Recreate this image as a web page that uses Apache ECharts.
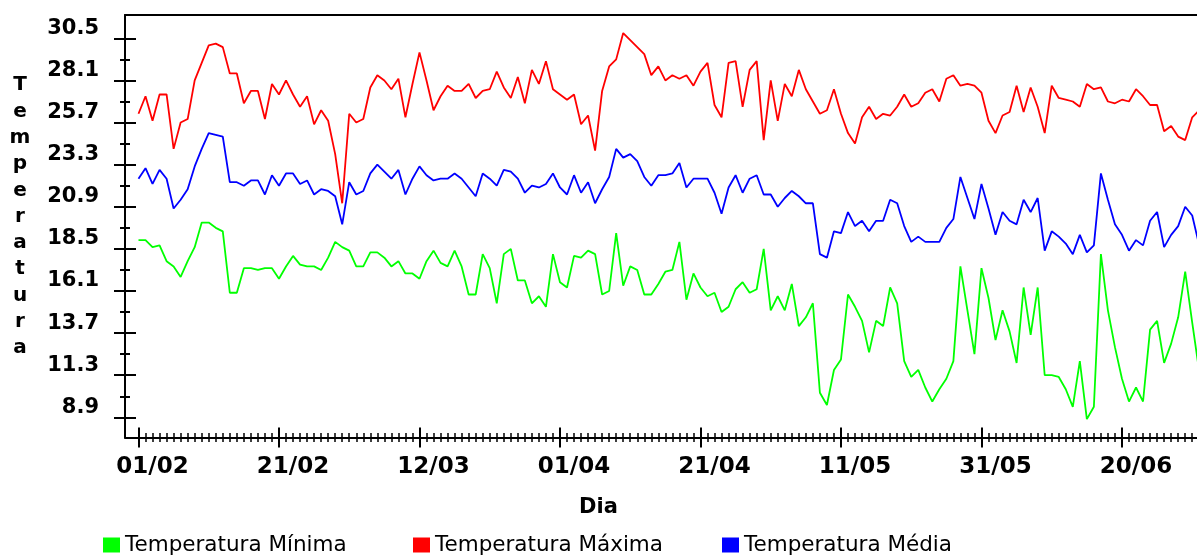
<!DOCTYPE html>
<html>
<head>
<meta charset="utf-8">
<title>Temperatura</title>
<script src="https://cdn.jsdelivr.net/npm/echarts@6/dist/echarts.min.js"></script>
<style>
  html, body { margin: 0; padding: 0; background: #fff; }
  #chart { width: 1197px; height: 556px; }
</style>
</head>
<body>
<div id="chart"></div>
<script>
// Daily temperatures, one value per day starting 01/02 (leap year, ends 01/07).
const tempMin = [
  19.0, 19.0, 18.6, 18.7, 17.8, 17.5, 16.9, 17.8, 18.6, 20.0,
  20.0, 19.7, 19.5, 16.0, 16.0, 17.4, 17.4, 17.3, 17.4, 17.4,
  16.8, 17.5, 18.1, 17.6, 17.5, 17.5, 17.3, 18.0, 18.9, 18.6,
  18.4, 17.5, 17.5, 18.3, 18.3, 18.0, 17.5, 17.8, 17.1, 17.1,
  16.8, 17.8, 18.4, 17.7, 17.5, 18.4, 17.5, 15.9, 15.9, 18.2,
  17.4, 15.4, 18.2, 18.5, 16.7, 16.7, 15.4, 15.8, 15.2, 18.2,
  16.6, 16.3, 18.1, 18.0, 18.4, 18.2, 15.9, 16.1, 19.4, 16.4,
  17.5, 17.3, 15.9, 15.9, 16.5, 17.2, 17.3, 18.9, 15.6, 17.1,
  16.3, 15.8, 16.0, 14.9, 15.2, 16.2, 16.6, 16.0, 16.2, 18.5,
  15.0, 15.8, 15.0, 16.5, 14.1, 14.6, 15.4, 10.3, 9.6, 11.6,
  12.2, 15.9, 15.2, 14.4, 12.6, 14.4, 14.1, 16.3, 15.4, 12.1,
  11.2, 11.6, 10.6, 9.8, 10.5, 11.1, 12.1, 17.5, 15.0, 12.5,
  17.4, 15.7, 13.3, 15.0, 13.8, 12.0, 16.3, 13.6, 16.3, 11.3,
  11.3, 11.2, 10.5, 9.5, 12.1, 8.8, 9.5, 18.2, 15.0, 12.9,
  11.1, 9.8, 10.6, 9.8, 13.9, 14.4, 12.0, 13.1, 14.6, 17.2,
  14.3, 11.5
];
const tempMax = [
  26.2, 27.2, 25.8, 27.3, 27.3, 24.2, 25.7, 25.9, 28.1, 29.1,
  30.1, 30.2, 30.0, 28.5, 28.5, 26.8, 27.5, 27.5, 25.9, 27.9,
  27.3, 28.1, 27.3, 26.6, 27.2, 25.6, 26.4, 25.8, 23.9, 21.1,
  26.2, 25.7, 25.9, 27.7, 28.4, 28.1, 27.6, 28.2, 26.0, 27.9,
  29.7, 28.1, 26.4, 27.2, 27.8, 27.5, 27.5, 27.9, 27.1, 27.5,
  27.6, 28.6, 27.7, 27.1, 28.3, 26.8, 28.7, 27.9, 29.2, 27.6,
  27.3, 27.0, 27.3, 25.6, 26.1, 24.1, 27.5, 28.9, 29.3, 30.8,
  30.4, 30.0, 29.6, 28.4, 28.9, 28.1, 28.4, 28.2, 28.4, 27.8,
  28.6, 29.1, 26.7, 26.0, 29.1, 29.2, 26.6, 28.7, 29.2, 24.7,
  28.1, 25.8, 27.9, 27.2, 28.7, 27.6, 26.9, 26.2, 26.4, 27.6,
  26.2, 25.1, 24.5, 26.0, 26.6, 25.9, 26.2, 26.1, 26.6, 27.3,
  26.6, 26.8, 27.4, 27.6, 26.9, 28.2, 28.4, 27.8, 27.9, 27.8,
  27.4, 25.8, 25.1, 26.1, 26.3, 27.8, 26.3, 27.7, 26.6, 25.1,
  27.8, 27.1, 27.0, 26.9, 26.6, 27.9, 27.6, 27.7, 26.9, 26.8,
  27.0, 26.9, 27.6, 27.2, 26.7, 26.7, 25.2, 25.5, 24.9, 24.7,
  26.0, 26.4
];
const tempAvg = [
  22.5, 23.1, 22.2, 23.0, 22.5, 20.8, 21.3, 21.9, 23.2, 24.2,
  25.1, 25.0, 24.9, 22.3, 22.3, 22.1, 22.4, 22.4, 21.6, 22.7,
  22.1, 22.8, 22.8, 22.2, 22.4, 21.6, 21.9, 21.8, 21.5, 19.9,
  22.3, 21.6, 21.8, 22.8, 23.3, 22.9, 22.5, 23.0, 21.6, 22.5,
  23.2, 22.7, 22.4, 22.5, 22.5, 22.8, 22.5, 22.0, 21.5, 22.8,
  22.5, 22.1, 23.0, 22.9, 22.5, 21.7, 22.1, 22.0, 22.2, 22.8,
  22.0, 21.6, 22.7, 21.7, 22.3, 21.1, 21.9, 22.6, 24.2, 23.7,
  23.9, 23.5, 22.6, 22.1, 22.7, 22.7, 22.8, 23.4, 22.0, 22.5,
  22.5, 22.5, 21.7, 20.5, 22.0, 22.7, 21.7, 22.5, 22.7, 21.6,
  21.6, 20.9, 21.4, 21.8, 21.5, 21.1, 21.1, 18.2, 18.0, 19.5,
  19.4, 20.6, 19.8, 20.1, 19.5, 20.1, 20.1, 21.3, 21.1, 19.8,
  18.9, 19.2, 18.9, 18.9, 18.9, 19.7, 20.2, 22.6, 21.4, 20.2,
  22.2, 20.8, 19.3, 20.6, 20.1, 19.9, 21.3, 20.6, 21.4, 18.4,
  19.5, 19.2, 18.8, 18.2, 19.3, 18.3, 18.7, 22.8, 21.3, 19.9,
  19.3, 18.4, 19.0, 18.7, 20.1, 20.6, 18.6, 19.3, 19.8, 20.9,
  20.4, 18.7
];

// Axis ticks: dates every 20 days, temperatures every 2.4 degrees.
const dateTickDays = [0, 20, 40, 60, 80, 100, 120, 140];
const dateTickLabels = ['01/02', '21/02', '12/03', '01/04', '21/04', '11/05', '31/05', '20/06'];
const tempTickLabels = ['8.9', '11.3', '13.7', '16.1', '18.5', '20.9', '23.3', '25.7', '28.1', '30.5'];
const tempMinorTicks = [10.1, 12.5, 14.9, 17.3, 19.7, 22.1, 24.5, 26.9, 29.3];

const seriesNames = ['Temperatura M\u00ednima', 'Temperatura M\u00e1xima', 'Temperatura M\u00e9dia'];
const seriesColors = ['#00ff00', '#ff0000', '#0000ff'];

const tempTicks = tempTickLabels.map(Number);
const dayTicks = tempMin.map((_, i) => i);

const X_MIN = -1.92, X_MAX = 150.68;
const Y_MIN = 7.75, Y_MAX = 31.83;
const FONT = 'DejaVu Sans';

function xAxisBase(extra) {
  return Object.assign({
    type: 'value', min: X_MIN, max: X_MAX, position: 'bottom',
    axisLine: { show: false, onZero: false },
    axisTick: { show: false },
    axisLabel: { show: false },
    splitLine: { show: false }
  }, extra);
}
function yAxisBase(extra) {
  return Object.assign({
    type: 'value', min: Y_MIN, max: Y_MAX, position: 'left',
    axisLine: { show: false, onZero: false },
    axisTick: { show: false },
    axisLabel: { show: false },
    splitLine: { show: false }
  }, extra);
}

const chart = echarts.init(document.getElementById('chart'), null, { renderer: 'canvas' });

chart.setOption({
  animation: false,
  backgroundColor: '#ffffff',
  grid: { left: 125, right: 0, top: 15, bottom: 118.5, containLabel: false },
  xAxis: [
    xAxisBase({
      axisLine: { show: true, onZero: false, lineStyle: { color: '#000', width: 2 } },
      axisLabel: {
        show: true, customValues: dateTickDays, margin: 18,
        padding: [0, 0, 0, 28],
        color: '#000', fontFamily: FONT, fontWeight: 'bold', fontSize: 23, lineHeight: 23,
        formatter: v => dateTickLabels[dateTickDays.indexOf(Math.round(v))] || ''
      }
    }),
    // long ticks crossing the axis every 20 days
    xAxisBase({
      offset: -10,
      axisTick: { show: true, customValues: dateTickDays, length: 20, lineStyle: { color: '#000', width: 2 } }
    }),
    // short daily ticks
    xAxisBase({
      offset: -4.5,
      axisTick: { show: true, customValues: dayTicks, length: 9, lineStyle: { color: '#000', width: 1.5 } }
    }),
    // upper frame line
    xAxisBase({
      position: 'top',
      axisLine: { show: true, onZero: false, lineStyle: { color: '#000', width: 2 } }
    })
  ],
  yAxis: [
    yAxisBase({
      axisLine: { show: true, onZero: false, lineStyle: { color: '#000', width: 2 } },
      axisLabel: {
        show: true, customValues: tempTicks, margin: 26,
        verticalAlign: 'bottom',
        color: '#000', fontFamily: FONT, fontWeight: 'bold', fontSize: 21, lineHeight: 20,
        formatter: v => tempTickLabels[tempTicks.indexOf(Math.round(v * 10) / 10)] || ''
      }
    }),
    yAxisBase({
      offset: -11,
      axisTick: { show: true, customValues: tempTicks, length: 22, lineStyle: { color: '#000', width: 2 } }
    }),
    yAxisBase({
      offset: -5,
      axisTick: { show: true, customValues: tempMinorTicks, length: 10, lineStyle: { color: '#000', width: 2 } }
    })
  ],
  legend: [0, 1, 2].map((k, idx) => ({
    data: [seriesNames[k]],
    left: [103, 413, 722][idx],
    top: 534,
    padding: 0,
    icon: 'rect',
    itemWidth: 17,
    itemHeight: 15,
    selectedMode: false,
    textStyle: { color: '#000', fontFamily: FONT, fontSize: 21.5, lineHeight: 21, padding: [0, 0, 0, 0] }
  })),
  graphic: [
    {
      type: 'text', left: 579, top: 497,
      style: { text: 'Dia', fill: '#000', font: 'bold 21px "DejaVu Sans"' }
    },
    {
      type: 'text', x: 20, y: 72,
      style: {
        text: 'Temperatura'.split('').join('\n'),
        fill: '#000', font: 'bold 20px "DejaVu Sans"',
        lineHeight: 26.3, align: 'center', verticalAlign: 'top'
      }
    }
  ],
  series: [tempMin, tempMax, tempAvg].map((values, k) => ({
    name: seriesNames[k],
    type: 'line',
    xAxisIndex: 0,
    yAxisIndex: 0,
    data: values.map((v, i) => [i, v]),
    showSymbol: false,
    symbol: 'none',
    clip: true,
    color: seriesColors[k],
    lineStyle: { color: seriesColors[k], width: 1.8 }
  }))
});
</script>
</body>
</html>
